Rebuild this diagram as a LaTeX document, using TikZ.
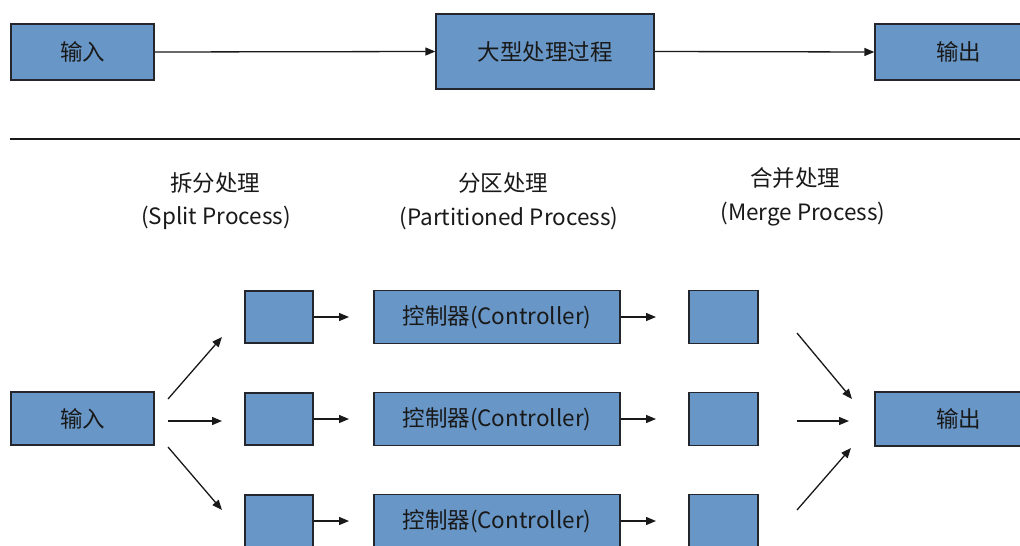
\documentclass[tikz,border=0pt]{standalone}
\usepackage{fontspec}
\setmainfont{Noto Sans CJK SC}
\usetikzlibrary{arrows.meta}
\definecolor{boxblue}{RGB}{104,150,198}
\definecolor{edge}{RGB}{35,38,45}
\definecolor{ink}{RGB}{25,25,25}
\tikzset{
  blk/.style={draw=edge, line width=1.3pt, fill=boxblue, rectangle, inner sep=0pt,
              text=ink, font=\fontsize{22.5}{26}\selectfont},
  arr/.style={draw=ink, line width=1.3pt, -{Triangle[length=10pt,width=8pt]}},
  lbl/.style={text=ink, font=\fontsize{22.5}{26}\selectfont, inner sep=0pt},
}
\begin{document}
\begin{tikzpicture}[x=1pt,y=-1pt]
\clip (0,0) rectangle (1020,546);
\fill[white] (0,0) rectangle (1020,546);

% single large process
\node[blk, minimum width=143pt, minimum height=56pt] (inTop)  at (82.5,52) {输入};
\node[blk, minimum width=218pt, minimum height=75pt] (big)    at (545,51.5) {大型处理过程};
\node[blk, minimum width=150pt, minimum height=56pt, text width=150pt, align=left] (outTop) at (950,52) {\hspace*{61pt}输出};
\draw[arr] (inTop.east) -- (big.west);
\draw[arr] (big.east) -- (outTop.west);

% separator
\coordinate (sepL) at (10,139);
\coordinate (sepR) at (1020,139);
\draw[ink, line width=1.6pt] (sepL) -- (sepR);

% stage titles
\node[lbl] (t1a) at (215,183) {拆分处理};
\node[lbl] (t1b) at (216,218) {(Split Process)};
\node[lbl] (t2a) at (503,183) {分区处理};
\node[lbl] (t2b) at (509,218) {(Partitioned Process)};
\node[lbl] (t3a) at (795,178) {合并处理};
\node[lbl] (t3b) at (803,214) {(Merge Process)};

% input / output
\node[blk, minimum width=143pt, minimum height=53pt] (inBot) at (82.5,418.5) {输入};
\node[blk, minimum width=150pt, minimum height=54pt, text width=150pt, align=left] (outBot) at (950,419) {\hspace*{61pt}输出};

% three parallel rows
\foreach \i/\y in {1/317,2/419,3/521}{
  \node[blk, minimum width=68pt, minimum height=52pt]  (s\i) at (279,\y) {};
  \node[blk, minimum width=246pt, minimum height=53pt] (c\i) at (497,\y) {控制器(Controller)};
  \node[blk, minimum width=69pt, minimum height=53pt]  (m\i) at (723.5,\y) {};
  \coordinate (sa\i) at (349,\y);
  \coordinate (ca\i) at (656,\y);
  \draw[arr] (s\i.east) -- (sa\i);
  \draw[arr] (c\i.east) -- (ca\i);
}

% split fan
\coordinate (f1s) at (168,399);  \coordinate (f1e) at (222,337);
\coordinate (f2s) at (168,421);  \coordinate (f2e) at (222,421);
\coordinate (f3s) at (168,447);  \coordinate (f3e) at (222,510);
\draw[arr] (f1s) -- (f1e);
\draw[arr] (f2s) -- (f2e);
\draw[arr] (f3s) -- (f3e);

% merge fan
\coordinate (g1s) at (797,333);  \coordinate (g1e) at (852,399);
\coordinate (g2s) at (797,421);  \coordinate (g2e) at (849,421);
\coordinate (g3s) at (797,510);  \coordinate (g3e) at (851,448);
\draw[arr] (g1s) -- (g1e);
\draw[arr] (g2s) -- (g2e);
\draw[arr] (g3s) -- (g3e);
\end{tikzpicture}
\end{document}
